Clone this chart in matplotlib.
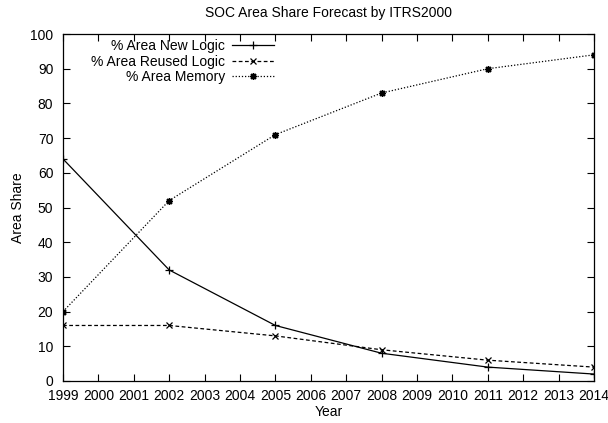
import numpy as np
import matplotlib
matplotlib.use("Agg")
import matplotlib.pyplot as plt

plt.rcParams['font.family'] = ['Liberation Sans', 'DejaVu Sans']

years = [1999, 2002, 2005, 2008, 2011, 2014]
new_logic = [64, 32, 16, 8, 4, 2]
reused_logic = [16, 16, 13, 9, 6, 4]
memory = [20, 52, 71, 83, 90, 94]

fig = plt.figure(figsize=(6.08, 4.23), dpi=100)
ax = fig.add_axes([0.1036, 0.0993, 0.8734, 0.8203])

ax.plot(years, new_logic, color='black', lw=0.9, ls='-', marker='+', ms=6, mew=0.9,
        label='% Area New Logic')
ax.plot(years, reused_logic, color='black', lw=0.9, ls=(0, (3, 2)), marker='x', ms=5, mew=0.9,
        label='% Area Reused Logic')
ax.plot(years, memory, color='black', lw=0.9, ls=(0, (1, 1.5)), marker=(8, 2, 0), ms=5, mew=1.0,
        label='% Area Memory')

ax.set_xlim(1999, 2014)
ax.set_ylim(0, 100)
ax.set_xticks(np.arange(1999, 2015))
ax.set_yticks(np.arange(0, 101, 10))
ax.tick_params(direction='in', length=5, width=0.8, top=True, right=True, labelsize=10)
ax.tick_params(axis='x', pad=5.5)
ax.tick_params(axis='y', pad=7)
for s in ax.spines.values():
    s.set_linewidth(0.9)

ax.set_title('SOC Area Share Forecast by ITRS2000', fontsize=10, pad=12)
ax.set_xlabel('Year', fontsize=10, labelpad=2)
ax.set_ylabel('Area Share', fontsize=10, labelpad=4)

ax.legend(loc='upper right', bbox_to_anchor=(0.397, 0.985), frameon=False, markerfirst=False,
          fontsize=10, handlelength=3, handletextpad=0.5, labelspacing=0.1, borderpad=0,
          borderaxespad=0)

fig.savefig('out.png', dpi=100)
